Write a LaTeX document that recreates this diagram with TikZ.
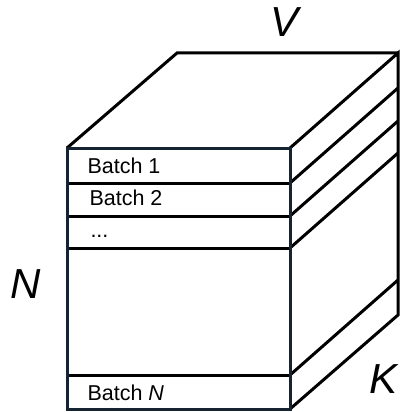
\documentclass[tikz,border=0pt]{standalone}
\usepackage{fontspec}
\setmainfont{Liberation Sans}
\definecolor{boxcol}{RGB}{22,36,50}
\begin{document}
\begin{tikzpicture}[x=1pt,y=-1pt,line width=3pt,line join=miter,
  edge/.style={draw=black},
  front/.style={draw=boxcol,fill=white},
  sep/.style={draw=black},
  batchlbl/.style={anchor=base west,inner sep=0pt,font=\fontsize{21.5}{22}\selectfont},
  dimlbl/.style={anchor=base,inner sep=0pt,font=\fontsize{42}{44}\selectfont\itshape}]
\useasboundingbox (0,0) rectangle (400,412);
% corners
\coordinate (FTL) at (67,148);
\coordinate (FTR) at (290,148);
\coordinate (FBL) at (67,409);
\coordinate (FBR) at (290,409);
\coordinate (BTL) at (177,53);
\coordinate (BTR) at (398,53);
\coordinate (BBR) at (398,315);
% separator ends on the front face
\coordinate (S1L) at (67,183);  \coordinate (S1R) at (290,183);
\coordinate (S2L) at (67,216);  \coordinate (S2R) at (290,216);
\coordinate (S3L) at (67,248);  \coordinate (S3R) at (290,248);
\coordinate (S4L) at (67,375);  \coordinate (S4R) at (290,375);
% their ends on the back edge
\coordinate (B1) at (398,88);
\coordinate (B2) at (398,121);
\coordinate (B3) at (398,153);
\coordinate (B4) at (398,280);
% back / top / side edges
\draw[edge] (FTL) -- (BTL) -- (BTR);
\draw[edge] (FTR) -- (BTR) -- (BBR) -- (FBR);
\draw[edge] (S1R) -- (B1);
\draw[edge] (S2R) -- (B2);
\draw[edge] (S3R) -- (B3);
\draw[edge] (S4R) -- (B4);
% front face
\draw[front] (FTL) rectangle (FBR);
\draw[sep] (S1L) -- (S1R);
\draw[sep] (S2L) -- (S2R);
\draw[sep] (S3L) -- (S3R);
\draw[sep] (S4L) -- (S4R);
\draw[front,fill=none] (FTL) rectangle (FBR);
% labels
\node[batchlbl] (b1) at (86,173) {Batch 1};
\node[batchlbl] (b2) at (88,205) {Batch 2};
\node[batchlbl] (b3) at (89,237) {...};
\node[batchlbl] (bn) at (86,400) {Batch \textit{N}};
\node[dimlbl] (V) at (285,37) {V};
\node[dimlbl] (N) at (26,298) {N};
\node[dimlbl,anchor=base west] (K) at (368,393) {K};
\end{tikzpicture}
\end{document}
